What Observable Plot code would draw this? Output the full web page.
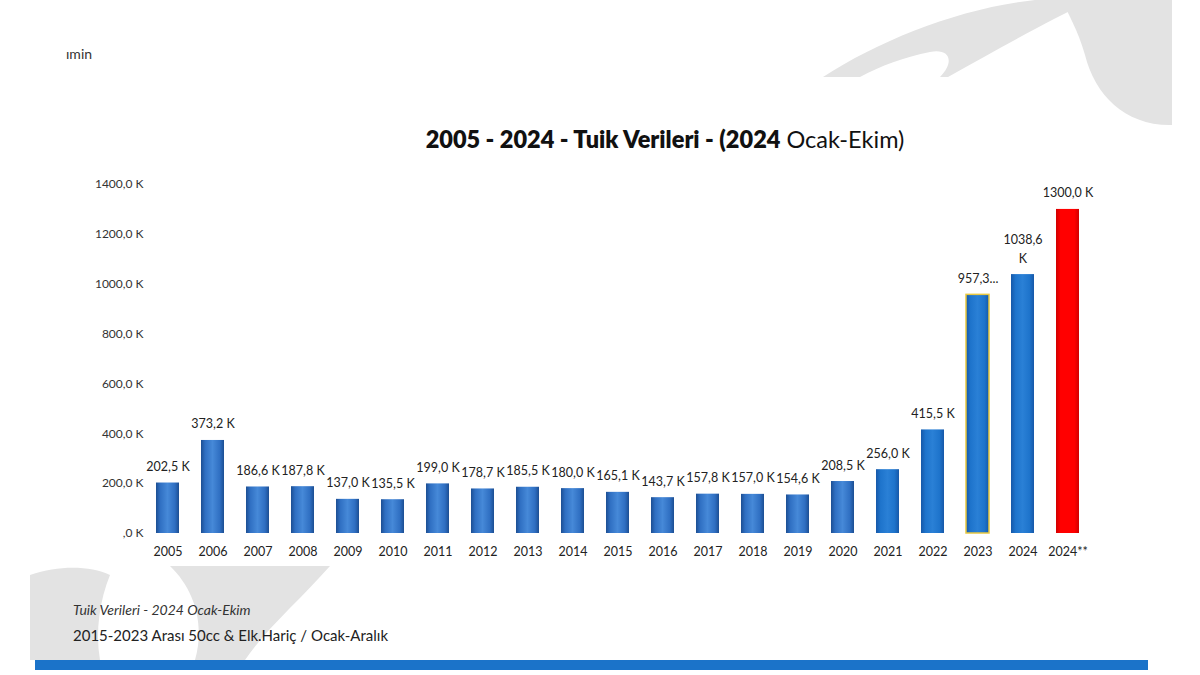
<!DOCTYPE html>
<html><head><meta charset="utf-8">
<script src="https://cdn.jsdelivr.net/npm/d3@7"></script>
<script src="https://cdn.jsdelivr.net/npm/@observablehq/plot@0.6"></script>
<style>
html,body{margin:0;padding:0;background:#fff;}
#wrap{position:relative;width:1200px;height:675px;overflow:hidden;background:#fff;font-family:Lato,"Open Sans",sans-serif;}
#bg{position:absolute;left:0;top:0;}
#frag{position:absolute;left:66px;top:45px;font-size:14px;color:#333;}
#title{position:absolute;left:0;width:1330px;top:125px;text-align:center;font-size:23.5px;color:#111;}
#title b{font-weight:800;}
#chart{position:absolute;left:0;top:160px;}
#cap1{position:absolute;left:73px;top:601px;font-size:14px;font-style:italic;color:#333;}
#cap2{position:absolute;left:73px;top:626px;font-size:15px;color:#222;}
#rule{position:absolute;left:35px;top:660px;width:1113px;height:10px;background:#1b73c9;}
</style></head>
<body>
<div id="wrap">
<svg id="bg" width="1200" height="675">
  <g fill="#e3e3e3">
    <path d="M823,77 C880,40 960,8 1035,0 L1092,0 C1050,20 1000,48 948,77 L940,77 C955,62 950,48 930,52 C905,57 880,66 860,77 Z"/>
    <path d="M1062,0 L1172,0 L1172,125 C1125,126 1095,95 1085,55 C1078,30 1068,14 1062,0 Z"/>
    <path d="M30,575 C60,565 90,566 110,575 C100,600 95,630 100,660 L30,660 Z"/>
    <path d="M170,566 L330,566 C300,600 265,630 245,660 L195,660 C205,625 195,590 170,566 Z"/>
  </g>
</svg>
<div id="frag">ımin</div>
<div id="title"><b>2005 - 2024 - Tuik Verileri - (2024</b> Ocak-Ekim)</div>
<div id="chart"></div>
<div id="cap1">Tuik Verileri - 2024 Ocak-Ekim</div>
<div id="cap2">2015-2023 Arası 50cc &amp; Elk.Hariç / Ocak-Aralık</div>
<div id="rule"></div>
</div>
<script>
const years = ["2005","2006","2007","2008","2009","2010","2011","2012","2013","2014","2015","2016","2017","2018","2019","2020","2021","2022","2023","2024","2024**"];
const values = [202.5,373.2,186.6,187.8,137.0,135.5,199.0,178.7,185.5,180.0,165.1,143.7,157.8,157.0,154.6,208.5,256.0,415.5,957.3,1038.6,1300.0];
const labels = ["202,5 K","373,2 K","186,6 K","187,8 K","137,0 K","135,5 K","199,0 K","178,7 K","185,5 K","180,0 K","165,1 K","143,7 K","157,8 K","157,0 K","154,6 K","208,5 K","256,0 K","415,5 K","957,3...","1038,6\nK","1300,0 K"];
const groups = ["old","old","old","old","old","old","old","old","old","old","old","old","old","old","old","old","new","new","new","new","fc"];
const yTicks = [0,200,400,600,800,1000,1200,1400];

const data = years.map((y,i)=>({year:y,value:values[i],label:labels[i],group:groups[i]}));
const fills = {old:"url(#gOld)",new:"url(#gNew)",fc:"url(#gRed)"};
const fmt = d => d===0 ? ",0 K" : d.toFixed(1).replace(".",",")+" K";

const chart = Plot.plot({
  width:1200, height:410,
  marginLeft:155, marginRight:121, marginTop:24, marginBottom:37,
  style:{fontFamily:"Lato, 'Open Sans', sans-serif", background:"transparent", color:"#222"},
  x:{domain:years, padding:0.5, paddingOuter:0, label:null},
  y:{domain:[0,1400], label:null},
  marks:[
    Plot.axisY({ticks:yTicks, tickSize:0, tickPadding:12, tickFormat:fmt, fontSize:12, fill:"#333"}),
    Plot.axisX({tickSize:0, tickPadding:14, fontSize:12.5, fill:"#222"}),
    Plot.barY(data,{x:"year", y:"value", fill:d=>fills[d.group],
      stroke:d=>d.year==="2023"?"#e8c840":"none", strokeWidth:1.5}),
    Plot.text(data,{x:"year", y:"value", text:"label", lineAnchor:"bottom", lineHeight:1.45, dy:-12, fontSize:12.5, fill:"#222"})
  ]
});
const ns="http://www.w3.org/2000/svg";
const defs=document.createElementNS(ns,"defs");
defs.innerHTML=`
<linearGradient id="gOld" x1="0" x2="1" y1="0" y2="0">
 <stop offset="0" stop-color="#1c4e92"/><stop offset="0.18" stop-color="#2f6fc2"/>
 <stop offset="0.5" stop-color="#4689d8"/><stop offset="0.82" stop-color="#2f6fc2"/>
 <stop offset="1" stop-color="#1c4e92"/></linearGradient>
<linearGradient id="gNew" x1="0" x2="1" y1="0" y2="0">
 <stop offset="0" stop-color="#1658a8"/><stop offset="0.2" stop-color="#1e74cc"/>
 <stop offset="0.5" stop-color="#2a80d6"/><stop offset="0.8" stop-color="#1e74cc"/>
 <stop offset="1" stop-color="#1658a8"/></linearGradient>
<linearGradient id="gRed" x1="0" x2="1" y1="0" y2="0">
 <stop offset="0" stop-color="#d00000"/><stop offset="0.2" stop-color="#ff0000"/>
 <stop offset="0.8" stop-color="#ff0000"/><stop offset="1" stop-color="#d00000"/></linearGradient>`;
chart.insertBefore(defs, chart.firstChild);
document.getElementById("chart").appendChild(chart);
</script>
</body></html>
